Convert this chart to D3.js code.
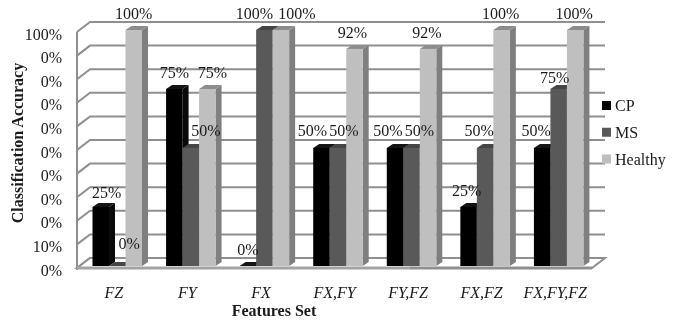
<!DOCTYPE html>
<html>
<head>
<meta charset="utf-8">
<script src="https://cdn.jsdelivr.net/npm/d3@7"></script>
<style>
  html, body { margin: 0; padding: 0; background: #fff; }
  svg { display: block; filter: blur(0.45px); }
  text { font-family: "Liberation Serif", serif; fill: #1a1a1a; }
</style>
</head>
<body>
<svg id="chart" width="681" height="321"></svg>
<script>
const categories = ['FZ', 'FY', 'FX', 'FX,FY', 'FY,FZ', 'FX,FZ', 'FX,FY,FZ'];
const seriesNames = ['CP', 'MS', 'Healthy'];
const cpValues = [25, 75, 0, 50, 50, 25, 50];
const msValues = [0, 50, 100, 50, 50, 50, 75];
const healthyValues = [100, 75, 100, 92, 92, 100, 100];
const tickValues = [0, 10, 20, 30, 40, 50, 60, 70, 80, 90, 100];
const tickLabels = ['0%', '10%', '0%', '0%', '0%', '0%', '0%', '0%', '0%', '0%', '100%'];

const faces = {
  CP: { front: '#000000', side: '#0a0a0a', top: '#141414' },
  MS: { front: '#595959', side: '#404040', top: '#454545' },
  Healthy: { front: '#bfbfbf', side: '#7f7f7f', top: '#8c8c8c' }
};

// the labels were placed by hand in the original, so they are not centred on the bars
const labelNudge = {
  CP: [[6, 2], [0, 0], [0, 0], [-9, -1], [-7, -1], [-2, 0], [-6, -1]],
  MS: [[12, -6], [15, -1], [-10, 0], [6, -1], [8, -1], [-6, -1], [-4, 5]],
  Healthy: [[0, 0], [5, 0], [16, 0], [-2, 0], [-1, 0], [-1, 0], [-1, 0]]
};

const svg = d3.select('#chart');
const wallColor = '#8f8f8f';
const depth = { x: 13, y: -10 };
const barShift = { x: 3, y: -2 };
const barDepth = { x: 6, y: -4 };

const x = d3.scaleBand().domain(categories).range([77, 592]);
const y = d3.scaleLinear().domain([0, 100]).range([268, 32]);
const inner = d3.scaleBand().domain(seriesNames).range([12.5, 62]);

const rows = seriesNames.map((name, i) => ({
  name,
  values: [cpValues, msValues, healthyValues][i]
}));

const barX = (cat, name) => x(cat) + inner(name) + barShift.x;

// back wall and side wall grid lines
const grid = svg.append('g').attr('fill', 'none').attr('stroke', wallColor).attr('stroke-width', 2);
grid.selectAll('polyline')
  .data(tickValues)
  .join('polyline')
  .attr('points', d => [
    [x.range()[0], y(d)],
    [x.range()[0] + depth.x, y(d) + depth.y],
    [x.range()[1] + depth.x, y(d) + depth.y]
  ].join(' '));

grid.append('line')
  .attr('x1', x.range()[0]).attr('x2', x.range()[0])
  .attr('y1', y(100)).attr('y2', y(0) + 2);

// floor
svg.append('polygon')
  .attr('points', [
    [x.range()[0], y(0)],
    [x.range()[0] + depth.x, y(0) + depth.y],
    [x.range()[1] + depth.x, y(0) + depth.y],
    [x.range()[1], y(0)]
  ].join(' '))
  .attr('fill', '#fff').attr('stroke', wallColor).attr('stroke-width', 2);
svg.append('line')
  .attr('x1', x.range()[0]).attr('x2', 410)
  .attr('y1', y(0)).attr('y2', y(0))
  .attr('stroke', '#a3a3a3').attr('stroke-width', 3);
svg.append('line')
  .attr('x1', 410).attr('x2', x.range()[1])
  .attr('y1', y(0)).attr('y2', y(0))
  .attr('stroke', wallColor).attr('stroke-width', 3);

// bars, left to right so the side faces get covered by the next bar
const bars = svg.append('g');
categories.forEach((cat, c) => {
  rows.forEach(row => {
    const col = faces[row.name];
    const bx = barX(cat, row.name);
    const bw = inner.bandwidth();
    const by = y(row.values[c]) + barShift.y;
    const base = y(0) + barShift.y;
    const g = bars.append('g');
    g.append('polygon')
      .attr('points', [[bx + bw, by], [bx + bw + barDepth.x, by + barDepth.y], [bx + bw + barDepth.x, base + barDepth.y], [bx + bw, base]].join(' '))
      .attr('fill', col.side);
    g.append('polygon')
      .attr('points', [[bx, by], [bx + barDepth.x, by + barDepth.y], [bx + bw + barDepth.x, by + barDepth.y], [bx + bw, by]].join(' '))
      .attr('fill', col.top);
    g.append('rect')
      .attr('x', bx).attr('y', by).attr('width', bw).attr('height', Math.max(0, base - by))
      .attr('fill', col.front);
  });
});

// y axis
const yAxis = d3.axisLeft(y)
  .tickValues(tickValues)
  .tickFormat((d, i) => tickLabels[i])
  .tickSize(0)
  .tickPadding(15);
const yG = svg.append('g').attr('transform', 'translate(77,2)').call(yAxis);
yG.select('.domain').remove();
yG.selectAll('text').attr('font-size', 16).style('font-family', '"Liberation Serif", serif').attr('fill', '#1a1a1a');

// x axis
const xAxis = d3.axisBottom(x).tickSize(0).tickPadding(18.5);
const xG = svg.append('g').attr('transform', `translate(0,${y(0)})`).call(xAxis);
xG.select('.domain').remove();
xG.selectAll('text').attr('font-size', 16).attr('font-style', 'italic').style('font-family', '"Liberation Serif", serif').attr('fill', '#1a1a1a');

// value labels
rows.forEach(row => {
  svg.append('g').selectAll('text')
    .data(row.values.map((v, c) => ({ v, c, cat: categories[c] })))
    .join('text')
    .attr('x', d => barX(d.cat, row.name) + inner.bandwidth() / 2 + labelNudge[row.name][d.c][0])
    .attr('y', d => y(d.v) + barShift.y - 11 + labelNudge[row.name][d.c][1])
    .attr('text-anchor', 'middle')
    .attr('font-size', 16)
    .text(d => d.v + '%');
});

// axis titles
svg.append('text')
  .attr('transform', 'translate(23,143) rotate(-90)')
  .attr('text-anchor', 'middle')
  .attr('font-size', 16).attr('font-weight', 'bold')
  .text('Classification Accuracy');
svg.append('text')
  .attr('x', 274).attr('y', 316)
  .attr('text-anchor', 'middle')
  .attr('font-size', 16).attr('font-weight', 'bold')
  .text('Features Set');

// legend
const legendY = d3.scalePoint().domain(seriesNames).range([105.5, 159]);
const legend = svg.append('g').selectAll('g')
  .data(seriesNames)
  .join('g')
  .attr('transform', d => `translate(602,${legendY(d)})`);
legend.append('rect')
  .attr('y', -4.5).attr('width', 9).attr('height', 9)
  .attr('fill', d => faces[d].front);
legend.append('text')
  .attr('x', 13).attr('y', 5.5)
  .attr('font-size', 16)
  .text(d => d);
</script>
</body>
</html>
